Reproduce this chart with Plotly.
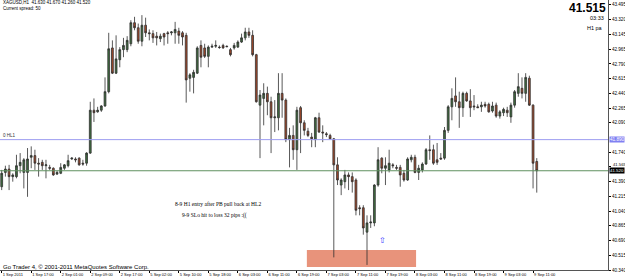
import plotly.graph_objects as go

# ---------------- data (XAGUSD, H1) ----------------
opens = [
    41.33, 41.50, 41.54, 41.45, 41.45, 41.58, 41.50, 41.50, 41.68, 41.70,
    41.61, 41.62, 41.58, 41.56, 41.55, 41.48, 41.49, 41.55, 41.58, 41.66,
    41.66, 41.67, 41.61, 41.61, 41.73, 42.24, 42.22, 42.24, 42.29, 42.46,
    42.98, 42.68, 42.84, 42.96, 42.96, 43.03, 43.28, 43.22, 43.06, 43.25,
    43.16, 43.15, 43.12, 43.09, 43.15, 43.16, 43.16, 43.16, 43.18, 43.16,
    43.13, 42.62, 42.63, 42.68, 43.01, 42.98, 42.88, 42.99, 43.00, 42.99,
    43.01, 43.00, 42.96, 42.98, 42.99, 43.05, 43.10, 43.17, 43.13, 42.90,
    42.30, 42.38, 42.44, 42.34, 42.15, 42.15, 42.44, 42.36, 41.89, 41.94,
    41.77, 42.27, 42.09, 41.99, 41.92, 41.89, 42.15, 41.98, 41.96, 41.94,
    41.90, 41.59, 41.35, 41.39, 41.47, 41.45, 41.41, 41.08, 41.08, 40.79,
    40.90, 40.90, 41.35, 41.67, 41.55, 41.53, 41.59, 41.56, 41.56, 41.49,
    41.41, 41.65, 41.68, 41.50, 41.53, 41.60, 41.77, 41.77, 41.65, 41.67,
    41.67, 42.00, 42.28, 42.41, 42.34, 42.27, 42.44, 42.35, 42.29, 42.28,
    42.28, 42.31, 42.31, 42.23, 42.30, 42.17, 42.21, 42.24, 42.16, 42.30,
    42.44, 42.50, 42.44, 42.62, 42.30, 41.63,
]
highs = [
    41.53, 41.58, 41.59, 41.49, 41.71, 41.73, 41.67, 41.79, 41.81, 41.77,
    41.67, 41.65, 41.65, 41.59, 41.56, 41.52, 41.61, 41.60, 41.71, 41.68,
    41.68, 41.68, 41.65, 41.74, 42.34, 42.38, 42.28, 42.30, 42.63, 43.16,
    43.07, 43.13, 42.99, 43.10, 43.12, 43.31, 43.35, 43.27, 43.37, 43.34,
    43.20, 43.19, 43.17, 43.15, 43.16, 43.18, 43.18, 43.29, 43.22, 43.18,
    43.16, 42.68, 42.72, 43.00, 43.07, 43.03, 43.01, 43.03, 43.07, 43.01,
    43.03, 43.01, 42.98, 43.04, 43.07, 43.15, 43.22, 43.22, 43.19, 42.91,
    42.48, 42.56, 42.52, 42.40, 42.36, 42.68, 42.68, 42.38, 42.03, 42.06,
    42.28, 42.29, 42.12, 42.03, 41.97, 42.16, 42.21, 42.06, 41.98, 41.96,
    41.91, 41.68, 41.43, 41.53, 41.50, 41.50, 41.43, 41.11, 41.11, 40.99,
    40.99, 41.36, 41.80, 41.68, 41.68, 41.77, 41.61, 41.59, 41.59, 41.53,
    41.68, 41.71, 41.71, 41.59, 41.62, 41.79, 41.94, 41.83, 41.85, 41.73,
    42.04, 42.30, 42.50, 42.63, 42.46, 42.46, 42.46, 42.49, 42.42, 42.31,
    42.34, 42.34, 42.33, 42.34, 42.33, 42.24, 42.27, 42.28, 42.33, 42.48,
    42.68, 42.63, 42.68, 42.65, 42.31, 41.67,
]
lows = [
    41.29, 41.45, 41.29, 41.39, 41.43, 41.49, 41.31, 41.21, 41.55, 41.53,
    41.45, 41.53, 41.43, 41.53, 41.46, 41.47, 41.48, 41.53, 41.56, 41.65,
    41.62, 41.58, 41.58, 41.58, 41.72, 42.10, 42.21, 42.22, 42.28, 42.44,
    42.67, 42.67, 42.75, 42.87, 42.93, 43.00, 43.19, 43.03, 43.00, 43.11,
    43.07, 43.04, 43.01, 43.05, 43.01, 43.03, 43.13, 43.03, 43.03, 43.01,
    42.33, 42.46, 42.44, 42.67, 42.75, 42.86, 42.75, 42.98, 42.98, 42.97,
    42.97, 42.99, 42.88, 42.96, 42.98, 43.04, 43.07, 43.10, 42.88, 42.33,
    41.67, 42.06, 42.18, 41.73, 41.98, 42.00, 42.15, 41.86, 41.56, 41.65,
    41.53, 41.73, 41.94, 41.92, 41.80, 41.80, 41.97, 41.86, 41.92, 41.89,
    40.49, 41.35, 41.23, 41.31, 41.29, 41.26, 40.99, 40.99, 40.76, 40.40,
    40.84, 40.86, 41.33, 41.49, 41.35, 41.50, 41.55, 41.53, 41.33, 41.39,
    41.40, 41.62, 41.49, 41.41, 41.50, 41.59, 41.65, 41.59, 41.59, 41.65,
    41.65, 41.97, 42.12, 42.28, 42.03, 42.16, 42.34, 42.16, 42.24, 42.27,
    42.22, 42.27, 42.21, 42.21, 42.15, 42.14, 42.17, 42.16, 42.09, 42.27,
    42.40, 42.38, 42.34, 42.29, 41.31, 41.26,
]
closes = [
    41.49, 41.54, 41.45, 41.47, 41.58, 41.62, 41.65, 41.66, 41.70, 41.61,
    41.60, 41.58, 41.59, 41.55, 41.47, 41.50, 41.56, 41.59, 41.64, 41.67,
    41.65, 41.59, 41.60, 41.73, 42.24, 42.21, 42.24, 42.29, 42.46, 42.97,
    42.68, 42.85, 42.96, 43.01, 43.07, 43.28, 43.22, 43.06, 43.25, 43.16,
    43.15, 43.10, 43.10, 43.12, 43.11, 43.15, 43.17, 43.20, 43.13, 43.11,
    42.60, 42.66, 42.69, 42.98, 42.87, 42.88, 42.99, 43.00, 43.01, 42.985,
    42.98, 42.995, 42.90, 43.01, 43.05, 43.10, 43.17, 43.13, 42.90, 42.34,
    42.42, 42.44, 42.34, 42.15, 42.16, 42.44, 42.36, 41.89, 41.94, 41.77,
    42.24, 42.09, 42.00, 41.94, 41.90, 42.15, 41.98, 41.97, 41.95, 41.90,
    41.59, 41.41, 41.41, 41.47, 41.45, 41.39, 41.05, 41.07, 40.84, 40.90,
    40.91, 41.35, 41.65, 41.55, 41.58, 41.61, 41.58, 41.55, 41.47, 41.41,
    41.66, 41.68, 41.50, 41.55, 41.60, 41.77, 41.76, 41.61, 41.62, 41.66,
    42.00, 42.28, 42.38, 42.34, 42.27, 42.44, 42.35, 42.27, 42.28, 42.27,
    42.30, 42.29, 42.22, 42.29, 42.17, 42.22, 42.25, 42.21, 42.30, 42.46,
    42.52, 42.44, 42.63, 42.30, 41.61, 41.52,
]
assert len(opens) == len(highs) == len(lows) == len(closes)
bars = list(range(len(opens)))

time_tick_bars = list(range(0, 145, 8))
time_tick_labels = [
    "1 Sep 2011", "1 Sep 17:00", "2 Sep 01:00", "2 Sep 09:00", "2 Sep 17:00",
    "5 Sep 02:00", "5 Sep 10:00", "5 Sep 18:00", "6 Sep 03:00", "6 Sep 11:00",
    "6 Sep 19:00", "7 Sep 03:00", "7 Sep 11:00", "7 Sep 19:00", "8 Sep 03:00",
    "8 Sep 11:00", "8 Sep 19:00", "9 Sep 03:00", "9 Sep 11:00",
]
# 41.915 is hidden behind the HL1 price box in the original;
# 41.565 sits right above the bid box and is drawn as a nudged label
price_tick_values = [43.495, 43.320, 43.145, 42.965, 42.790, 42.615, 42.440,
                     42.265, 42.090, 41.740, 41.565, 41.390, 41.215,
                     41.040, 40.865, 40.690, 40.515, 40.340]
price_tick_labels = ["43.495", "43.320", "43.145", "42.965", "42.790", "42.615",
                     "42.440", "42.265", "42.090", "41.740", "",
                     "41.390", "41.215", "41.040", "40.865", "40.690", "40.515",
                     "40.340"]
crowded_tick_value = 41.565
crowded_tick_label = "41.565"

hl1_price = 41.89
hl1_label = "41.890"
bid_price = 41.52
bid_label = "41.520"
header_text = "XAGUSD,H1  41.630 41.670 41.260 41.520"
spread_text = "Current spread: 50"
big_price_text = "41.515"
timer_text = "03:33"
tf_text = "H1 pa"

note1_text = "8-9 H1 entry after PB pull back at HL2"
note1_bar, note1_price = 58.5, 41.124
note2_text = "9-9 SLo hit to loss 32 pips :(("
note2_bar, note2_price = 57.8, 40.99
arrow_bar, arrow_price = 103.3, 40.69
zone_bar_start, zone_bar_end = 82.7, 112.3
zone_low, zone_high = 40.376, 40.578

x_range = [-0.46, 164.31]
y_range = [40.34, 43.55]

FONT = "Liberation Sans, Arial, sans-serif"

fig = go.Figure()
fig.add_trace(go.Candlestick(
    x=bars, open=opens, high=highs, low=lows, close=closes,
    increasing=dict(line=dict(color="#2e2e2e", width=0.8), fillcolor="#3f6e3f"),
    decreasing=dict(line=dict(color="#2e2e2e", width=0.8), fillcolor="#a4492a"),
    hoverinfo="skip", showlegend=False,
))

shapes = [
    dict(type="rect", xref="x", yref="y", x0=zone_bar_start, x1=zone_bar_end,
         y0=zone_low, y1=zone_high, fillcolor="#e8937b", line=dict(width=0),
         layer="below"),
    dict(type="line", xref="paper", yref="y", x0=0, x1=1, y0=hl1_price, y1=hl1_price,
         line=dict(color="#9c9cf0", width=1)),
    dict(type="line", xref="paper", yref="y", x0=0, x1=1, y0=bid_price, y1=bid_price,
         line=dict(color="#5f915f", width=1)),
]

annotations = [
    dict(text=header_text, xref="paper", yref="paper", x=0.003, y=1 - 3 / 270,
         xanchor="left", yanchor="middle", showarrow=False, borderpad=0,
         font=dict(family=FONT, size=4.5, color="#000")),
    dict(text=spread_text, xref="paper", yref="paper", x=0.003, y=1 - 9 / 270,
         xanchor="left", yanchor="middle", showarrow=False, borderpad=0,
         font=dict(family=FONT, size=4.5, color="#000")),
    dict(text="<b>" + big_price_text + "</b>", xref="paper", yref="paper",
         x=607 / 608, y=1 - 8 / 270, xanchor="right", yanchor="middle",
         showarrow=False, borderpad=0, font=dict(family=FONT, size=12, color="#000")),
    dict(text=timer_text, xref="paper", yref="paper", x=605 / 608, y=1 - 18 / 270,
         xanchor="right", yanchor="middle", showarrow=False, borderpad=0,
         font=dict(family=FONT, size=5.5, color="#000")),
    dict(text=tf_text, xref="paper", yref="paper", x=604 / 608, y=1 - 28 / 270,
         xanchor="right", yanchor="middle", showarrow=False, borderpad=0,
         font=dict(family=FONT, size=5.5, color="#000")),
    dict(text="0 HL1", xref="paper", yref="y", x=0.003, y=hl1_price,
         xanchor="left", yanchor="bottom", yshift=0.5, showarrow=False, borderpad=0,
         font=dict(family=FONT, size=4.5, color="#333")),
    dict(text=note1_text, xref="x", yref="y", x=note1_bar, y=note1_price,
         xanchor="center", yanchor="middle", showarrow=False, borderpad=0,
         font=dict(family="Liberation Serif, Times New Roman, serif", size=5.5, color="#000")),
    dict(text=note2_text, xref="x", yref="y", x=note2_bar, y=note2_price,
         xanchor="center", yanchor="middle", showarrow=False, borderpad=0,
         font=dict(family="Liberation Serif, Times New Roman, serif", size=5.5, color="#000")),
    dict(text="⇧", xref="x", yref="y", x=arrow_bar, y=arrow_price,
         xanchor="center", yanchor="middle", showarrow=False, borderpad=0,
         font=dict(family="DejaVu Sans", size=8, color="#3535ff")),
    dict(text="Go Trader 4, © 2001-2011 MetaQuotes Software Corp.", xref="paper",
         yref="paper", x=0.003, y=3 / 270, xanchor="left", yanchor="middle",
         showarrow=False, borderpad=0, font=dict(family=FONT, size=6, color="#000")),
    dict(text=crowded_tick_label, xref="paper", yref="y", x=1.0, y=crowded_tick_value,
         xanchor="left", yanchor="bottom", xshift=4, yshift=-1, showarrow=False,
         borderpad=0, font=dict(family=FONT, size=4.2, color="#000")),
    dict(text=hl1_label, xref="paper", yref="y", x=1.002, y=hl1_price,
         xanchor="left", yanchor="middle", showarrow=False, borderpad=0,
         bgcolor="#8080f2", font=dict(family=FONT, size=4.6, color="#fff")),
    dict(text=bid_label, xref="paper", yref="y", x=1.002, y=bid_price,
         xanchor="left", yanchor="middle", showarrow=False, borderpad=0,
         bgcolor="#000", font=dict(family=FONT, size=4.4, color="#fff")),
]

fig.update_layout(
    width=625, height=279, autosize=False,
    margin=dict(l=0, r=17, t=0, b=9, pad=0),
    paper_bgcolor="#fff", plot_bgcolor="#fff",
    shapes=shapes, annotations=annotations, showlegend=False,
    xaxis=dict(
        range=x_range, tickmode="array", tickvals=time_tick_bars, ticktext=time_tick_labels,
        ticks="outside", ticklen=2, tickcolor="#000", tickwidth=1, tickangle=0,
        tickfont=dict(family=FONT, size=4, color="#000"),
        ticklabelposition="outside right", automargin=False,
        showgrid=False, zeroline=False, showline=True, linecolor="#555", linewidth=1,
        mirror=True, rangeslider=dict(visible=False), fixedrange=True,
    ),
    yaxis=dict(
        range=y_range, side="right", tickmode="array", tickvals=price_tick_values,
        ticktext=price_tick_labels, ticks="outside", ticklen=2, tickcolor="#000",
        tickfont=dict(family=FONT, size=4.6, color="#000"), automargin=False,
        showgrid=False, zeroline=False, showline=True, linecolor="#555", linewidth=1,
        mirror=True, fixedrange=True,
    ),
)

fig.write_html("out.html")
